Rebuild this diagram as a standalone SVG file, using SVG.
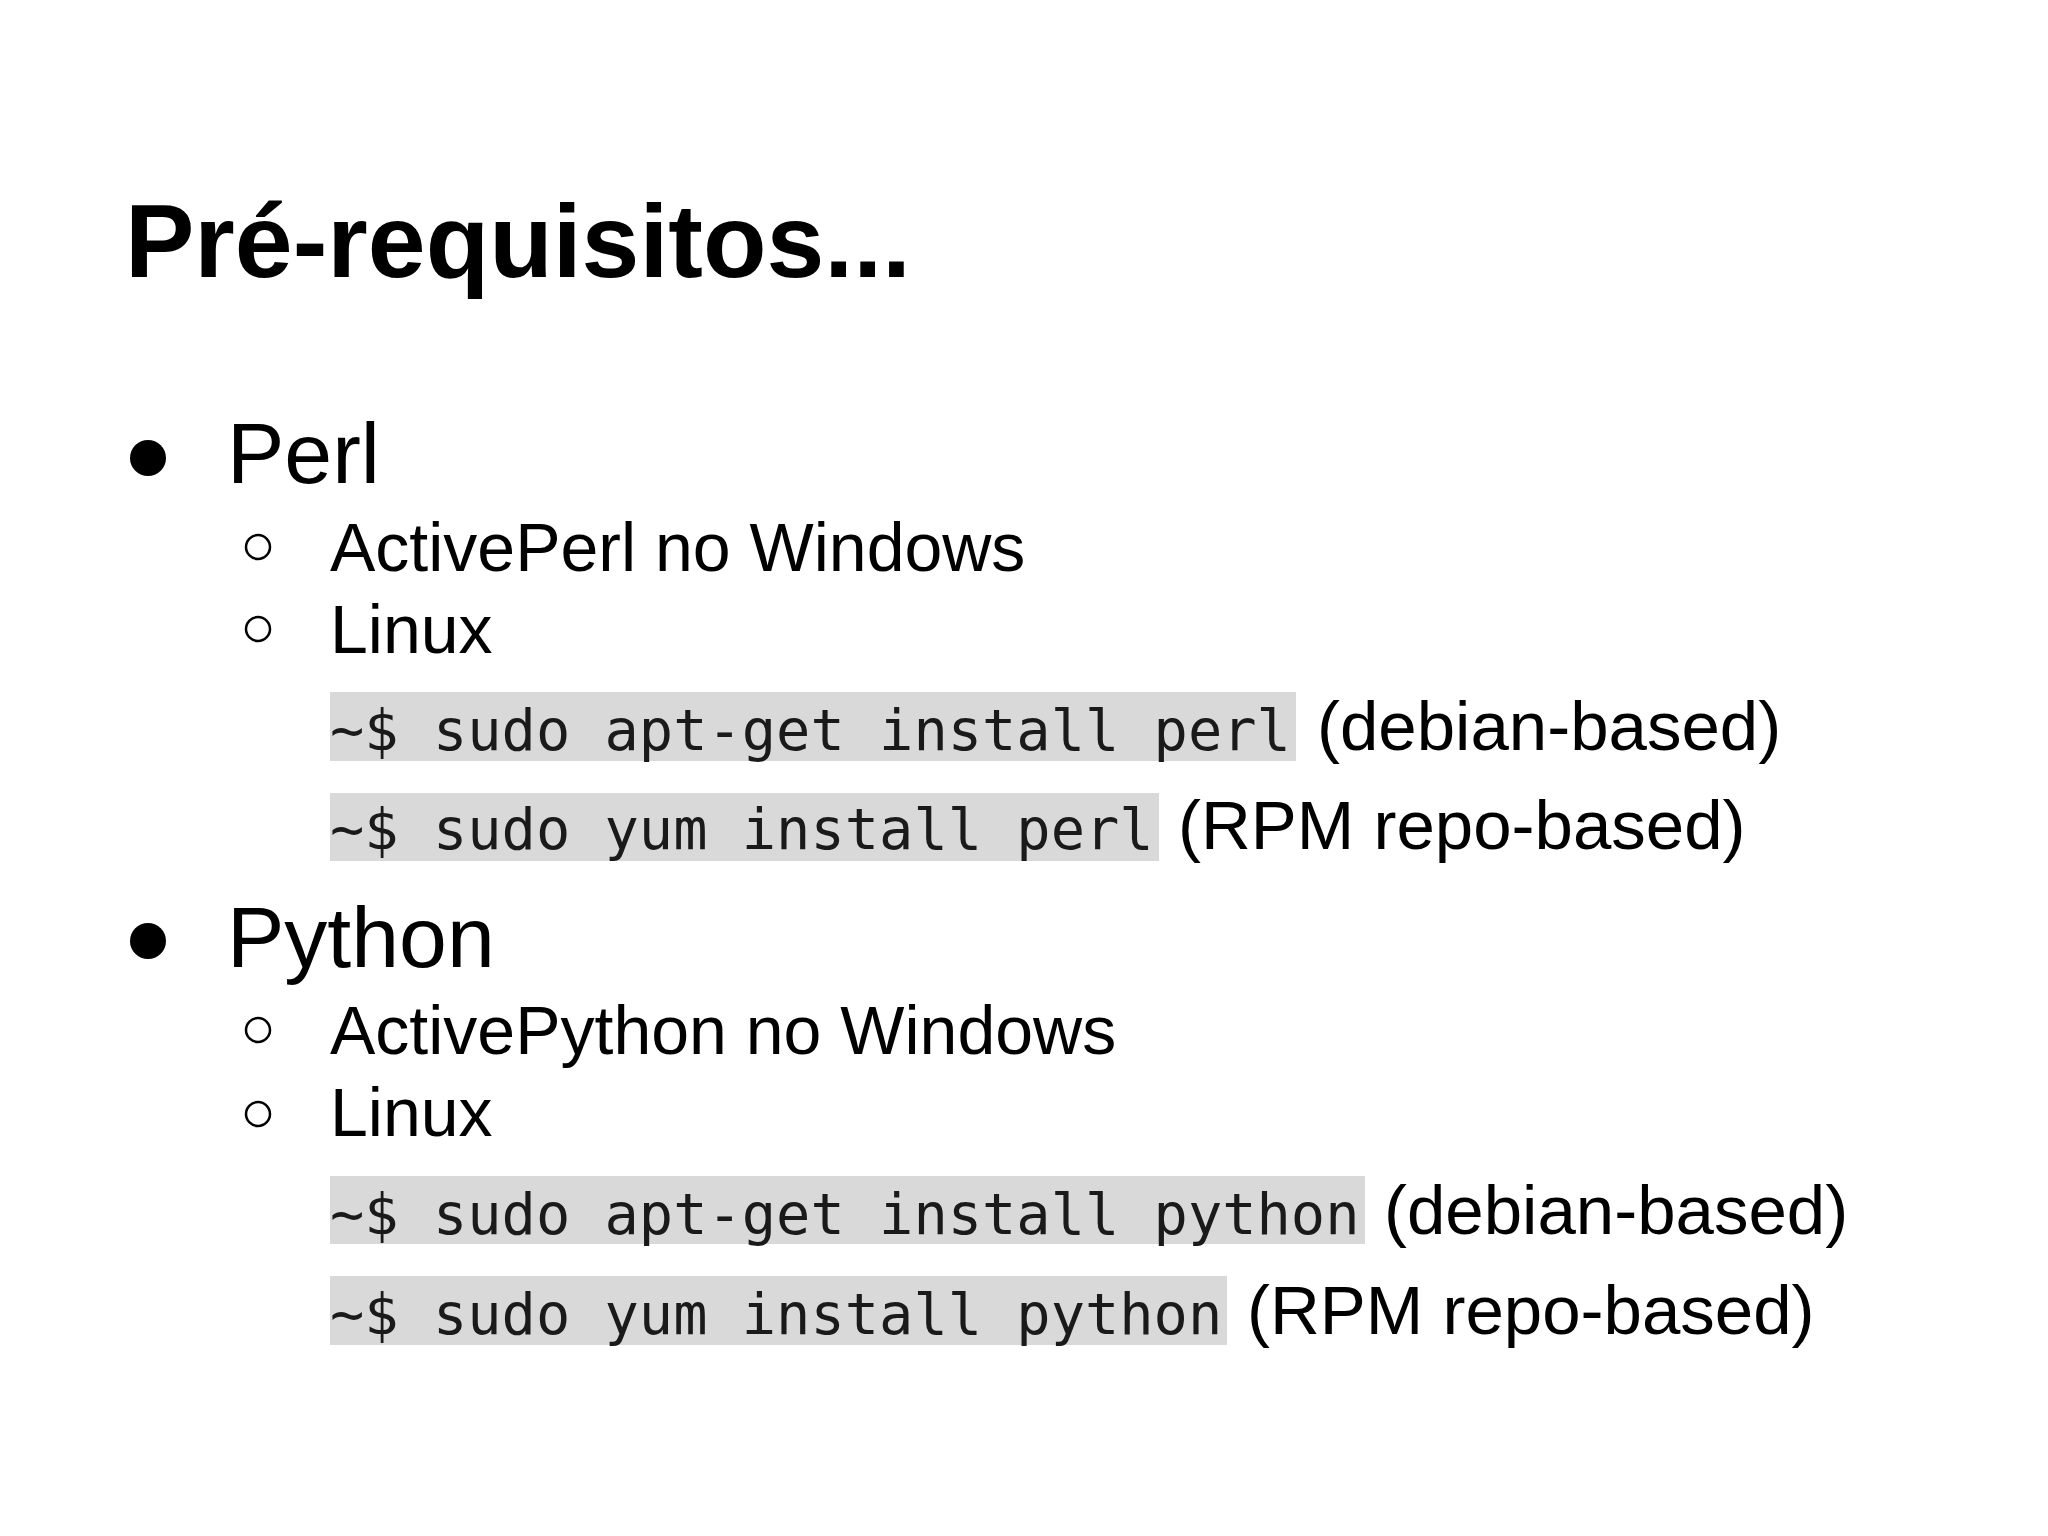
<svg xmlns="http://www.w3.org/2000/svg" width="2048" height="1536" viewBox="0 0 2048 1536">
<style>
.t{font-family:"Liberation Sans",Arial,sans-serif;fill:#000}
.m{font-family:"DejaVu Sans Mono",monospace;font-size:57px;fill:#1a1a1a}
.cb{fill:#d9d9d9}
.sc{fill:none;stroke:#000;stroke-width:2.5}
</style>
<rect width="2048" height="1536" fill="#fff"/>
<text class="t" x="125" y="277" font-size="104" font-weight="bold">Pré-requisitos...</text>
<g id="perl">
<circle cx="148" cy="458" r="18"/>
<text class="t" x="227" y="483" font-size="86">Perl</text>
<circle class="sc" cx="258" cy="547" r="12"/>
<text class="t" x="330" y="571" font-size="68">ActivePerl no Windows</text>
<circle class="sc" cx="258" cy="629" r="12"/>
<text class="t" x="330" y="653" font-size="68">Linux</text>
<rect class="cb" x="330" y="692" width="966" height="69"/>
<text class="m" x="330" y="750">~$ sudo apt-get install perl</text>
<text class="t" x="1317" y="750" font-size="69">(debian-based)</text>
<rect class="cb" x="330" y="793" width="829" height="68"/>
<text class="m" x="330" y="849">~$ sudo yum install perl</text>
<text class="t" x="1178" y="849" font-size="69">(RPM repo-based)</text>
</g>
<g id="python">
<circle cx="148" cy="941" r="18"/>
<text class="t" x="227" y="967" font-size="86">Python</text>
<circle class="sc" cx="258" cy="1030" r="12"/>
<text class="t" x="330" y="1054" font-size="68">ActivePython no Windows</text>
<circle class="sc" cx="258" cy="1114" r="12"/>
<text class="t" x="330" y="1136" font-size="68">Linux</text>
<rect class="cb" x="330" y="1176" width="1035" height="68"/>
<text class="m" x="330" y="1234">~$ sudo apt-get install python</text>
<text class="t" x="1384" y="1234" font-size="69">(debian-based)</text>
<rect class="cb" x="330" y="1276" width="897" height="69"/>
<text class="m" x="330" y="1334">~$ sudo yum install python</text>
<text class="t" x="1247" y="1334" font-size="69">(RPM repo-based)</text>
</g>
<g id="connectors"/>
</svg>
